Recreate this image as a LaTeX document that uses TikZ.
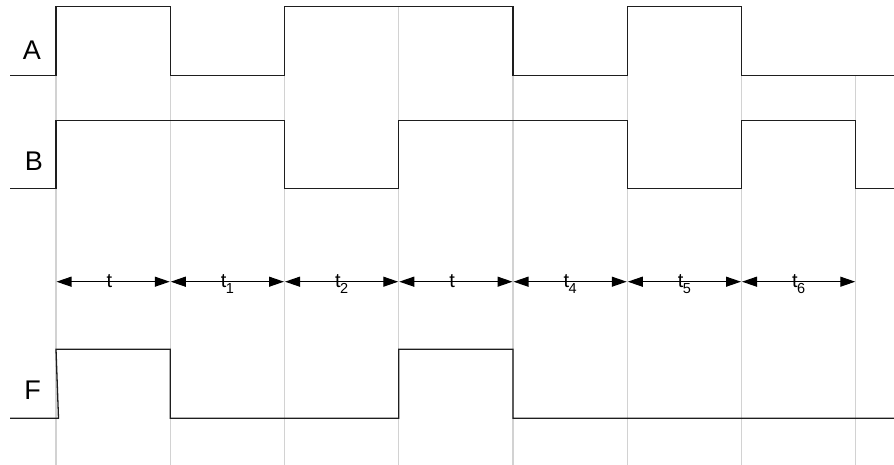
\documentclass[tikz,border=0pt]{standalone}
\usepackage{fontspec}
\setmainfont{Liberation Sans}
\usetikzlibrary{arrows.meta,calc}
\definecolor{wave}{HTML}{1E1E1E}
\definecolor{gridc}{HTML}{D2D2D2}
\newcommand{\tlab}[1]{t\kern-0.6pt\raisebox{-6pt}{\fontsize{14.5}{14.5}\selectfont #1}}
\tikzset{
  wavestyle/.style={draw=wave, line width=1.3pt, line join=miter},
  gridline/.style={draw=gridc, line width=1.2pt},
  span/.style={draw=black, line width=1.1pt, {Triangle[length=15pt,width=10pt]}-{Triangle[length=15pt,width=10pt]}, shorten <=0.5pt, shorten >=0.5pt},
  siglabel/.style={font=\fontsize{27}{27}\selectfont, inner sep=0pt},
  spanlabel/.style={font=\fontsize{20}{20}\selectfont, inner sep=0pt, anchor=base},
}
\begin{document}
\begin{tikzpicture}[x=1pt,y=-1pt]
\useasboundingbox (0,0) rectangle (894,465);
% grid positions
\foreach \i/\x in {0/56,1/170.25,2/284.5,3/398.75,4/513,5/627.25,6/741.5,7/855.75}{
  \coordinate (g\i) at (\x,281.7);
}
% grid lines
\foreach \i/\x in {0/56,1/170.25,2/284.5,3/398.75,4/513,5/627.25,6/741.5}{
  \draw[gridline] (\x,6.3) -- (\x,465);
}
\draw[gridline] (855.75,75.3) -- (855.75,465);
% signal labels
\node[siglabel] (lA) at (32,50) {A};
\node[siglabel] (lB) at (34,161) {B};
\node[siglabel] (lF) at (32.5,390) {F};
% waveforms
\draw[wavestyle] (10,75.3) -- (56,75.3) -- (56,6.3) -- (170.25,6.3) -- (170.25,75.3) -- (284.5,75.3) -- (284.5,6.3) -- (513,6.3) -- (513,75.3) -- (627.25,75.3) -- (627.25,6.3) -- (741.5,6.3) -- (741.5,75.3) -- (894,75.3);
\draw[wavestyle] (10,188.7) -- (56,188.7) -- (56,120.7) -- (284.5,120.7) -- (284.5,188.7) -- (398.75,188.7) -- (398.75,120.7) -- (627.25,120.7) -- (627.25,188.7) -- (741.5,188.7) -- (741.5,120.7) -- (855.75,120.7) -- (855.75,188.7) -- (894,188.7);
\draw[wavestyle] (10,418.3) -- (58.5,418.3) -- (56,349.3) -- (170.25,349.3) -- (170.25,418.3) -- (398.75,418.3) -- (398.75,349.3) -- (513,349.3) -- (513,418.3) -- (894,418.3);
% spans
\draw[span] (g0) -- (g1);
\draw[span] (g1) -- (g2);
\draw[span] (g2) -- (g3);
\draw[span] (g3) -- (g4);
\draw[span] (g4) -- (g5);
\draw[span] (g5) -- (g6);
\draw[span] (g6) -- (g7);
% span labels
\node[spanlabel] (s0) at ($(g0)!0.5!(g1)+(0,6)$) {\tlab{\phantom{1}}};
\node[spanlabel] (s1) at ($(g1)!0.5!(g2)+(0,6)$) {\tlab{1}};
\node[spanlabel] (s2) at ($(g2)!0.5!(g3)+(0,6)$) {\tlab{2}};
\node[spanlabel] (s3) at ($(g3)!0.5!(g4)+(0,6)$) {\tlab{\phantom{1}}};
\node[spanlabel] (s4) at ($(g4)!0.5!(g5)+(0,6)$) {\tlab{4}};
\node[spanlabel] (s5) at ($(g5)!0.5!(g6)+(0,6)$) {\tlab{5}};
\node[spanlabel] (s6) at ($(g6)!0.5!(g7)+(0,6)$) {\tlab{6}};
\end{tikzpicture}
\end{document}
